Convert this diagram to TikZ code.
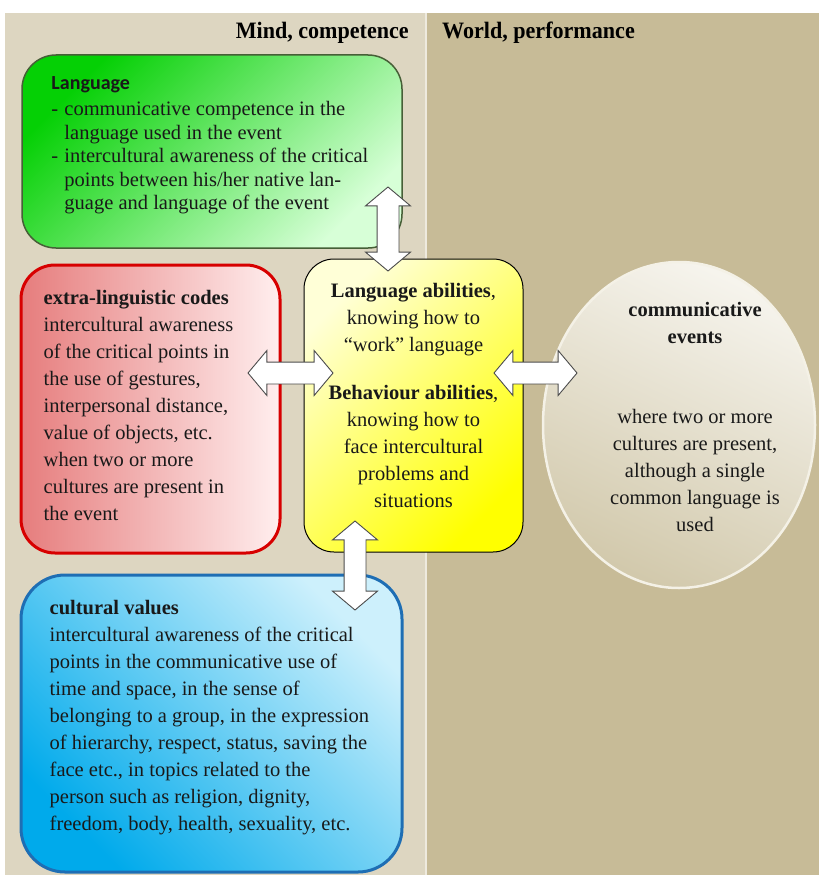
\documentclass[tikz,border=0pt]{standalone}
\usepackage{fontspec}
\setmainfont{Liberation Serif}
\newfontfamily\headfont[FakeStretch=0.94]{Liberation Serif}
\newfontfamily\calfont{Carlito}
\usetikzlibrary{positioning,shapes.geometric,shapes.arrows,calc}

\definecolor{leftbg}{RGB}{221,214,193}
\definecolor{rightbg}{RGB}{199,187,151}
\definecolor{divider}{RGB}{238,234,222}
\definecolor{greendark}{RGB}{5,208,5}
\definecolor{greenlight}{RGB}{215,255,215}
\definecolor{greenedge}{RGB}{70,95,55}
\definecolor{redleft}{RGB}{230,125,125}
\definecolor{redright}{RGB}{255,238,238}
\definecolor{rededge}{RGB}{215,0,0}
\definecolor{yellowlight}{RGB}{255,255,215}
\definecolor{yellowstrong}{RGB}{255,255,0}
\definecolor{bluedark}{RGB}{0,170,235}
\definecolor{bluelight}{RGB}{205,240,252}
\definecolor{blueedge}{RGB}{30,110,180}
\definecolor{evtop}{RGB}{246,244,237}
\definecolor{evbottom}{RGB}{210,201,172}
\definecolor{evedge}{RGB}{244,241,230}

\begin{document}
\begin{tikzpicture}[x=1pt,y=-1pt,
  box/.style={rectangle,inner sep=0pt},
  bodytext/.style={inner sep=0pt,text=black!90,font=\fontsize{20.5}{27}\selectfont},
  headtext/.style={inner sep=0pt,font=\headfont\bfseries\fontsize{23.5}{28}\selectfont},
  dblarrow/.style={double arrow,draw=black!70,fill=white,line width=0.9pt,inner xsep=0pt,inner ysep=10.5pt,
    double arrow head extend=11.5pt,double arrow tip angle=100}]
  \useasboundingbox (0,0) rectangle (819,875);
  \fill[white] (0,0) rectangle (819,875);
  \fill[leftbg] (5,13) rectangle (425,875);
  \fill[rightbg] (427,13) rectangle (819,875);
  \draw[divider,line width=2pt] (426,13) -- (426,875);

  % headings
  \node[headtext,anchor=base east] (mind) at (409,38) {Mind, competence};
  \node[headtext,right=33pt of mind.base east,anchor=base west] (world) {World, performance};

  % boxes
  \node[box,draw=greenedge,line width=1.5pt,rounded corners=34pt,minimum width=380pt,minimum height=193pt,
    top color=greendark,bottom color=greenlight,shading angle=45] (lang) at (212,151.5) {};
  \node[box,draw=rededge,line width=3pt,rounded corners=34pt,minimum width=259pt,minimum height=288pt,
    left color=redleft,right color=redright] (extra) at (150.5,409) {};
  \node[box,draw=black,line width=1pt,rounded corners=30pt,minimum width=219pt,minimum height=293pt,
    top color=yellowlight,bottom color=yellowstrong,shading angle=45] (abil) at (413.5,405.5) {};
  \node[box,draw=blueedge,line width=3pt,rounded corners=44pt,minimum width=381pt,minimum height=297pt,
    top color=bluelight,bottom color=bluedark,shading angle=-45] (values) at (211.5,723.5) {};
  \node[ellipse,draw=evedge,line width=2.5pt,inner sep=0pt,minimum width=272pt,minimum height=326pt,
    top color=evtop,bottom color=evbottom,shading angle=-25] (events) at (679,425) {};

  % texts
  \node[bodytext,font=\fontsize{20.5}{23.5}\selectfont,anchor=north west,align=left] (langtxt)
    at ([xshift=30pt,yshift=-22pt]lang.north west)
    {{\calfont\bfseries\fontsize{20}{24}\selectfont Language}\\[3pt]
     \makebox[13pt][l]{-}communicative competence in the\\
     \hspace*{13pt}language used in the event\\
     \makebox[13pt][l]{-}intercultural awareness of the critical\\
     \hspace*{13pt}points between his/her native lan-\\
     \hspace*{13pt}guage and language of the event};
  \node[bodytext,anchor=north west,align=left] (extratxt)
    at ([xshift=24pt,yshift=-27pt]extra.north west)
    {\textbf{extra-linguistic codes}\\ intercultural awareness\\ of the critical points in\\
     the use of gestures,\\ interpersonal distance,\\ value of objects, etc.\\
     when two or more\\ cultures are present in\\ the event};
  \node[bodytext,anchor=north,align=center] (abiltxt)
    at ([yshift=-25pt]abil.north)
    {\textbf{Language abilities},\\ knowing how to\\ “work” language\\[21pt]
     \textbf{Behaviour abilities},\\ knowing how to\\ face intercultural\\ problems and\\ situations};
  \node[bodytext,anchor=north west,align=left] (valtxt)
    at ([xshift=30pt,yshift=-27pt]values.north west)
    {\textbf{cultural values}\\ intercultural awareness of the critical\\ points in the communicative use of\\
     time and space, in the sense of\\ belonging to a group, in the expression\\
     of hierarchy, respect, status, saving the\\ face etc., in topics related to the\\
     person such as religion, dignity,\\ freedom, body, health, sexuality, etc.};
  \node[bodytext,anchor=north,align=center] (evtxt)
    at ([xshift=16pt,yshift=-41pt]events.north)
    {\textbf{communicative}\\ \textbf{events}\\[53pt] where two or more\\ cultures are present,\\
     although a single\\ common language is\\ used};

  % double arrows
  \node[dblarrow,rotate=90,minimum height=84pt] (a1) at (388,229) {};
  \node[dblarrow,minimum height=85pt] (a2) at (290.5,373) {};
  \node[dblarrow,minimum height=83pt] (a3) at (535.5,373) {};
  \node[dblarrow,rotate=90,minimum height=89pt] (a4) at (355,565.5) {};
\end{tikzpicture}
\end{document}
